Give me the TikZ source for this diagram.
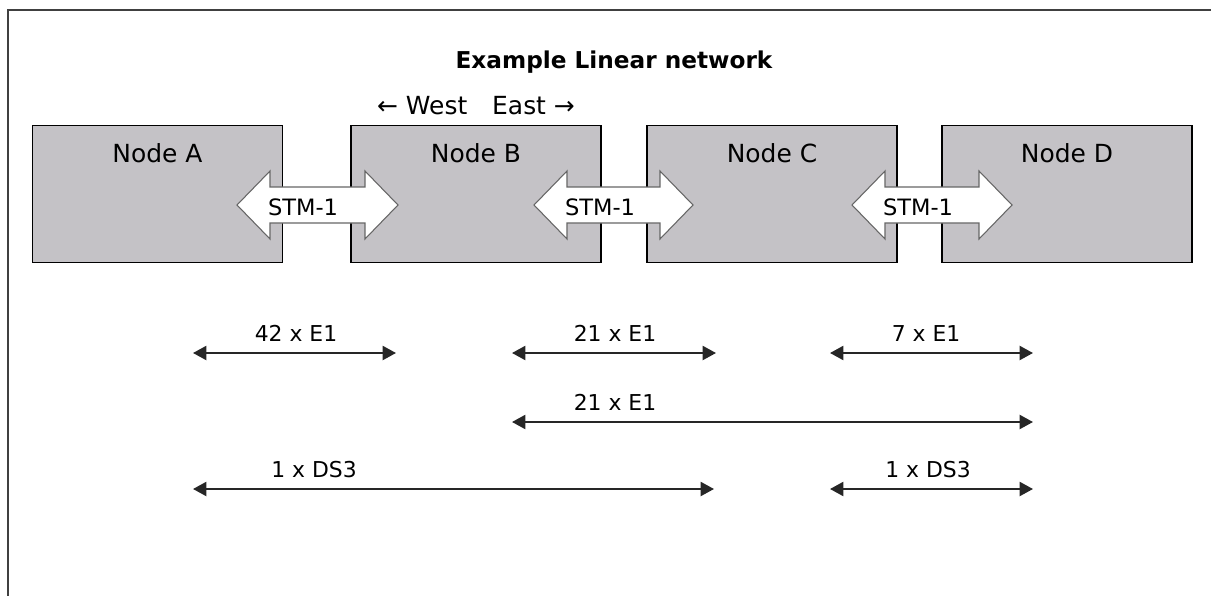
\documentclass[tikz,border=0pt]{standalone}
\usepackage{fontspec}
\setmainfont{DejaVu Sans}
\usetikzlibrary{arrows.meta}
\definecolor{boxgray}{RGB}{196,194,198}
\tikzset{
  netbox/.style={draw=black, line width=1.1pt, fill=boxgray, minimum width=187.5pt, minimum height=102.75pt, inner sep=0pt},
  boxname/.style={anchor=base, inner sep=0pt, font=\fontsize{18.7}{22}\selectfont},
  stmlink/.style={draw=black!60, line width=0.8pt, fill=white, line join=miter},
  stmname/.style={anchor=base, inner sep=0pt, font=\fontsize{16.9}{20}\selectfont},
  tribline/.style={black!85, line width=1.6pt, >={Triangle[length=10pt,width=10.5pt]}, <->},
  tribname/.style={anchor=base, inner sep=0pt, font=\fontsize{16.4}{19}\selectfont},
}
\begin{document}
\begin{tikzpicture}[x=0.75pt, y=-0.75pt]
    \useasboundingbox (0,0) rectangle (1211,596);
    \draw[black!75, line width=1.5pt] (8,596) -- (8,9.5) -- (1211,9.5);

    \node[anchor=base, inner sep=0pt, font=\bfseries\fontsize{17.4}{21}\selectfont] (title) at (614,68.5) {Example Linear network};
    \node[boxname] (dirs) at (476,114) {← West\quad East →};

    \node[netbox] (A) at (157.5,193.75) {};
    \node[netbox] (B) at (476,193.75) {};
    \node[netbox] (C) at (772,193.75) {};
    \node[netbox] (D) at (1067,193.75) {};
    \node[boxname] (labA) at (157.5,162) {Node A};
    \node[boxname] (labB) at (476,162) {Node B};
    \node[boxname] (labC) at (772,162) {Node C};
    \node[boxname] (labD) at (1067,162) {Node D};

    \coordinate (ab) at (237,205);
    \coordinate (bc) at (534,205);
    \coordinate (cd) at (852,205);
    \draw[stmlink] (ab) -- ++(33,-34) -- ++(0,16) -- ++(95,0) -- ++(0,-16) -- ++(33,34) -- ++(-33,34) -- ++(0,-16) -- ++(-95,0) -- ++(0,16) -- cycle;
    \draw[stmlink] (bc) -- ++(33,-34) -- ++(0,16) -- ++(93,0) -- ++(0,-16) -- ++(33,34) -- ++(-33,34) -- ++(0,-16) -- ++(-93,0) -- ++(0,16) -- cycle;
    \draw[stmlink] (cd) -- ++(33,-34) -- ++(0,16) -- ++(94,0) -- ++(0,-16) -- ++(33,34) -- ++(-33,34) -- ++(0,-16) -- ++(-94,0) -- ++(0,16) -- cycle;
    \node[stmname] (stmab) at (303,215) {STM-1};
    \node[stmname] (stmbc) at (600,215) {STM-1};
    \node[stmname] (stmcd) at (918,215) {STM-1};

    \coordinate (s1w) at (193,353);  \coordinate (s1e) at (396,353);
    \coordinate (s2w) at (512,353);  \coordinate (s2e) at (716,353);
    \coordinate (s3w) at (830,353);  \coordinate (s3e) at (1033,353);
    \coordinate (s4w) at (512,422);  \coordinate (s4e) at (1033,422);
    \coordinate (s5w) at (193,489);  \coordinate (s5e) at (714,489);
    \coordinate (s6w) at (830,489);  \coordinate (s6e) at (1033,489);
    \draw[tribline] (s1w) -- (s1e);
    \draw[tribline] (s2w) -- (s2e);
    \draw[tribline] (s3w) -- (s3e);
    \draw[tribline] (s4w) -- (s4e);
    \draw[tribline] (s5w) -- (s5e);
    \draw[tribline] (s6w) -- (s6e);
    \node[tribname] (t1) at (296,341) {42 x E1};
    \node[tribname] (t2) at (615,341) {21 x E1};
    \node[tribname] (t3) at (926,341) {7 x E1};
    \node[tribname] (t4) at (615,410) {21 x E1};
    \node[tribname] (t5) at (314,477) {1 x DS3};
    \node[tribname] (t6) at (928,477) {1 x DS3};

\end{tikzpicture}
\end{document}
